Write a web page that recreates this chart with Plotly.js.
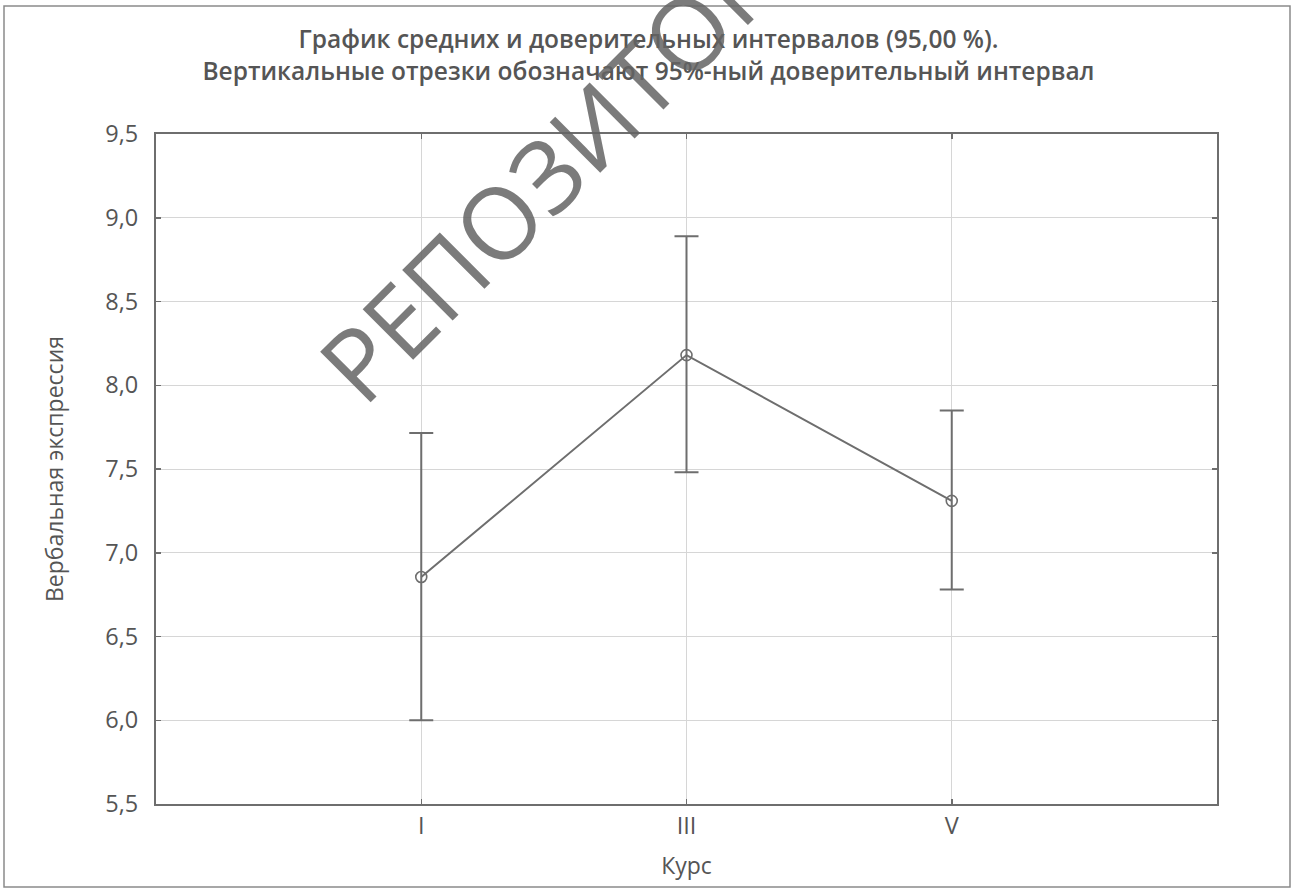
<!DOCTYPE html>
<html>
<head>
<meta charset="utf-8">
<script src="https://cdn.plot.ly/plotly-3.0.1.min.js"></script>
<style>
  html, body { margin: 0; padding: 0; background: #ffffff; }
  #chart { width: 1297px; height: 888px; }
</style>
</head>
<body>
<div id="chart"></div>
<script>
// ---- data ----
const courses = ['I', 'III', 'V'];
const means = [6.855, 8.18, 7.31];
const ciLower = [6.0, 7.48, 6.78];
const ciUpper = [7.715, 8.89, 7.85];

const titleText = 'График средних и доверительных интервалов (95,00 %).<br>Вертикальные отрезки обозначают 95%-ный доверительный интервал';
const xTitle = 'Курс';
const yTitle = 'Вербальная экспрессия';
const watermark = 'РЕПОЗИТОРИЙ';

const errPlus = means.map((m, i) => ciUpper[i] - m);
const errMinus = means.map((m, i) => m - ciLower[i]);

const W = 1297, H = 888;
const M = { l: 156, r: 80, t: 134, b: 84 };
const pw = W - M.l - M.r, ph = H - M.t - M.b;
const px = v => (v - M.l) / pw;
const py = v => (H - M.b - v) / ph;

const inkColor = '#6e6e6e';
const textColor = '#555555';
const FONT = 'Open Sans, Noto Sans, sans-serif';

const trace = {
  type: 'scatter',
  mode: 'lines+markers',
  x: courses,
  y: means,
  line: { color: inkColor, width: 2 },
  marker: { symbol: 'circle-open', size: 11, color: inkColor, line: { width: 1.6, color: inkColor } },
  error_y: {
    type: 'data', symmetric: false,
    array: errPlus, arrayminus: errMinus,
    color: inkColor, thickness: 2, width: 12
  },
  showlegend: false,
  hoverinfo: 'x+y'
};

const axisCommon = {
  showgrid: true, gridcolor: '#d6d6d6', gridwidth: 1,
  showline: true, linecolor: inkColor, linewidth: 2, mirror: 'ticks',
  ticks: 'inside', ticklen: 5, tickwidth: 1.5, tickcolor: inkColor,
  zeroline: false,
  tickfont: { family: FONT, size: 23.5, color: textColor }
};

const layout = {
  width: W, height: H,
  margin: M,
  paper_bgcolor: '#ffffff', plot_bgcolor: '#ffffff',
  separators: ', ',
  font: { family: FONT, color: textColor },
  title: {
    text: titleText,
    x: 0.5, xanchor: 'center', xref: 'container',
    y: 1, yanchor: 'bottom', yref: 'paper',
    pad: { b: 86 },
    font: { family: FONT, size: 24.5, weight: 600, color: textColor }
  },
  xaxis: Object.assign({}, axisCommon, {
    type: 'category',
    range: [-1, 3],
    title: { text: xTitle, standoff: 18, font: { family: FONT, size: 23, color: textColor } }
  }),
  yaxis: Object.assign({}, axisCommon, {
    range: [5.5, 9.5],
    tick0: 5.5, dtick: 0.5,
    tickformat: '.1f',
    ticklabelstandoff: 11,
    title: { text: yTitle, standoff: 35, font: { family: FONT, size: 23, color: textColor } }
  }),
  shapes: [{
    type: 'rect', xref: 'paper', yref: 'paper',
    x0: px(4), x1: px(1290), y0: py(887), y1: py(6),
    line: { color: '#8a8a8a', width: 1.5 },
    fillcolor: 'rgba(0,0,0,0)',
    layer: 'below'
  }],
  annotations: [{
    text: watermark,
    xref: 'paper', yref: 'paper',
    x: px(600), y: py(118),
    xanchor: 'center', yanchor: 'middle',
    textangle: -45,
    showarrow: false,
    font: { family: FONT, size: 100, weight: 400, color: 'rgba(100,100,100,0.85)' }
  }]
};

Plotly.newPlot('chart', [trace], layout, { displayModeBar: false, staticPlot: true });
</script>
</body>
</html>
